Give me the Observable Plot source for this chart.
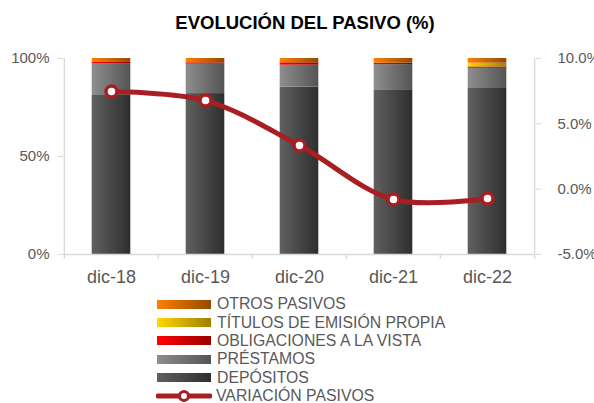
<!DOCTYPE html>
<html>
<head>
<meta charset="utf-8">
<script src="https://cdn.jsdelivr.net/npm/d3@7"></script>
<script src="https://cdn.jsdelivr.net/npm/@observablehq/plot@0.6"></script>
<style>
  html, body { margin: 0; padding: 0; background: #fff; }
  #wrap { position: relative; width: 594px; height: 403px; overflow: hidden; font-family: "Liberation Sans", Arial, sans-serif; }
  #title { position: absolute; left: 8px; top: 13px; width: 594px; text-align: center; font-weight: bold; font-size: 18.5px; line-height: 20px; color: #000; }
  #legend { position: absolute; left: 157px; top: 295px; }
  .row { display: flex; align-items: center; height: 18.4px; }
  .sw { width: 54px; height: 9px; margin-right: 6px; }
  .lab { font-size: 15.8px; color: #595959; line-height: 18px; white-space: nowrap; }
  #chart svg { position: absolute; left: 0; top: 0; }
</style>
</head>
<body>
<div id="wrap">
  <div id="chart"></div>
  <div id="title">EVOLUCIÓN DEL PASIVO (%)</div>
  <div id="legend"></div>
</div>
<script>
// ---- data ----
const categories = ["dic-18", "dic-19", "dic-20", "dic-21", "dic-22"];
const depositos = [81.5, 82.1, 85.4, 83.7, 84.7];
const prestamos = [15.9, 15.0, 11.2, 13.2, 10.3];
const obligaciones = [0.6, 0.7, 1.2, 0.7, 0.7];
const titulos = [0, 0, 0, 0, 1.9];
const otros = [2.0, 2.2, 2.2, 2.4, 2.4];
const variacion = [7.47, 6.78, 3.34, -0.79, -0.72];
const seriesNames = ["DEPÓSITOS", "PRÉSTAMOS", "OBLIGACIONES A LA VISTA", "TÍTULOS DE EMISIÓN PROPIA", "OTROS PASIVOS"];
const lineName = "VARIACIÓN PASIVOS";
const leftTicks = [0, 50, 100];
const rightTicks = [-5, 0, 5, 10];

// ---- styling ----
const gradients = [
  ["gDep", "#606060", "#2e2e2e"],
  ["gPre", "#8e8e8e", "#545454"],
  ["gObl", "#ff0000", "#9a0000"],
  ["gTit", "#ffd800", "#9c8000"],
  ["gOtr", "#ff8000", "#944a00"]
];
const lineColor = "#a81e22";
const axisColor = "#d9d9d9";
const textColor = "#595959";

const W = 594, H = 403;
const mL = 63, mR = 59, mT = 58, mB = 149;
const bw = (W - mL - mR) / categories.length;
const barW = 39;
const inset = (bw - barW) / 2;

// secondary axis mapping (-5%..10%) -> (0..100)
const toLeft = v => (v + 5) / 15 * 100;

const seriesValues = [depositos, prestamos, obligaciones, titulos, otros];
const stackRows = [];
seriesNames.forEach((s, si) => categories.forEach((c, ci) => stackRows.push({cat: c, serie: s, value: seriesValues[si][ci]})));
const lineRows = categories.map((c, i) => ({cat: c, v: variacion[i]}));

const font = {fontFamily: "Liberation Sans, Arial, sans-serif"};

const plot = Plot.plot({
  width: W, height: H,
  marginLeft: mL, marginRight: mR, marginTop: mT, marginBottom: mB,
  style: {...font, background: "transparent"},
  x: {domain: categories, padding: 0, axis: null, label: null},
  y: {domain: [0, 100], axis: null, label: null},
  color: {domain: seriesNames, range: gradients.map(g => `url(#${g[0]})`), legend: false},
  marks: [
    Plot.barY(stackRows, {x: "cat", y: "value", fill: "serie", order: seriesNames, insetLeft: inset, insetRight: inset}),
    Plot.ruleY([0], {stroke: axisColor, strokeWidth: 1.3}),
    // category boundary ticks and vertical axis lines
    Plot.ruleX(categories, {x: d => d, dx: -bw / 2, y1: -2.5, y2: 0, stroke: axisColor, strokeWidth: 1.3}),
    Plot.ruleX([categories[categories.length - 1]], {x: d => d, dx: bw / 2, y1: -2.5, y2: 0, stroke: axisColor, strokeWidth: 1.3}),
    Plot.ruleX([categories[0]], {x: d => d, dx: -bw / 2, y1: 0, y2: 100, stroke: axisColor, strokeWidth: 1.3}),
    Plot.ruleX([categories[categories.length - 1]], {x: d => d, dx: bw / 2, y1: 0, y2: 100, stroke: axisColor, strokeWidth: 1.3}),
    Plot.axisY(leftTicks, {anchor: "left", label: null, tickSize: 5, tickPadding: 9, stroke: axisColor, fill: textColor, fontSize: 15, tickFormat: d => d + "%"}),
    Plot.axisY(rightTicks.map(toLeft), {anchor: "right", label: null, tickSize: 5, tickPadding: 17, stroke: axisColor, fill: textColor, fontSize: 15,
      tickFormat: d => (Math.round(d * 15 / 100 - 5)).toFixed(1) + "%"}),
    Plot.axisX({anchor: "bottom", label: null, tickSize: 0, tickPadding: 16, fill: textColor, fontSize: 18}),
    Plot.line(lineRows, {x: "cat", y: d => toLeft(d.v), curve: "catmull-rom", stroke: lineColor, strokeWidth: 5}),
    Plot.dot(lineRows, {x: "cat", y: d => toLeft(d.v), r: 5.5, fill: "white", stroke: lineColor, strokeWidth: 3.5})
  ]
});

// gradient defs
const ns = "http://www.w3.org/2000/svg";
const defs = document.createElementNS(ns, "defs");
gradients.forEach(([id, c1, c2]) => {
  const lg = document.createElementNS(ns, "linearGradient");
  lg.setAttribute("id", id);
  lg.setAttribute("x1", "0"); lg.setAttribute("x2", "1"); lg.setAttribute("y1", "0"); lg.setAttribute("y2", "0");
  [[0, c1], [1, c2]].forEach(([o, c]) => {
    const st = document.createElementNS(ns, "stop");
    st.setAttribute("offset", o);
    st.setAttribute("stop-color", c);
    lg.appendChild(st);
  });
  defs.appendChild(lg);
});
plot.insertBefore(defs, plot.firstChild);
document.getElementById("chart").appendChild(plot);

// legend (top series first)
const legend = document.getElementById("legend");
for (let i = seriesNames.length - 1; i >= 0; i--) {
  const row = document.createElement("div");
  row.className = "row";
  const sw = document.createElement("div");
  sw.className = "sw";
  sw.style.background = `linear-gradient(to right, ${gradients[i][1]}, ${gradients[i][2]})`;
  const lab = document.createElement("div");
  lab.className = "lab";
  lab.textContent = seriesNames[i];
  row.appendChild(sw); row.appendChild(lab);
  legend.appendChild(row);
}
{
  const row = document.createElement("div");
  row.className = "row";
  row.innerHTML = `<svg width="56" height="14" style="margin-right:4px;margin-left:-1px">
    <line x1="2" y1="7" x2="54" y2="7" stroke="${lineColor}" stroke-width="5" stroke-linecap="round"/>
    <circle cx="28" cy="7" r="4.5" fill="white" stroke="${lineColor}" stroke-width="3"/></svg>`;
  const lab = document.createElement("div");
  lab.className = "lab";
  lab.textContent = lineName;
  row.appendChild(lab);
  legend.appendChild(row);
}
</script>
</body>
</html>
